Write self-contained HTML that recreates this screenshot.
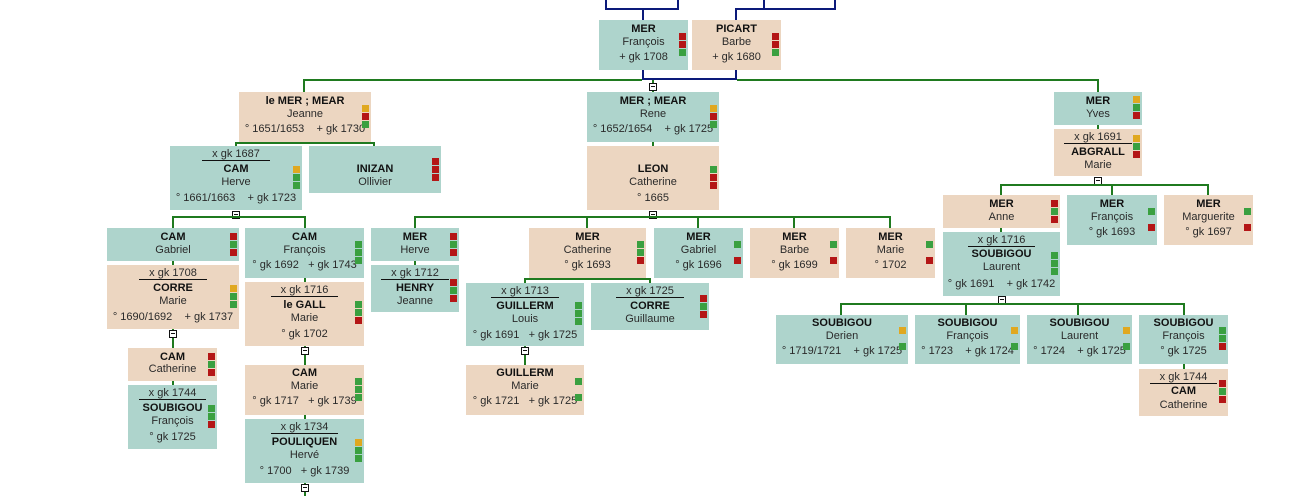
<!DOCTYPE html>
<html><head><meta charset="utf-8"><style>
body{margin:0;width:1306px;height:496px;background:#fff;position:relative;overflow:hidden;font-family:"Liberation Sans",Arial,sans-serif;}
.b{position:absolute;}
.T{background:#aed4cc}.P{background:#ecd6c1}
.l{position:absolute;left:0;right:0;text-align:center;font-size:11px;line-height:13px;color:#2a2a2a;white-space:nowrap}
.l b{font-weight:bold;color:#111}
.u{border-bottom:1px solid #111;padding:0 10px}
.mk{position:absolute;right:2px;width:7px}
.mk i{display:block;width:7px;height:7px;margin-bottom:1px}
.o{background:#e0a820}.r{background:#b41616}.g{background:#3aa040}.n{background:transparent}
.h{position:absolute;background:#1f7a1f}
.v{position:absolute;background:#1f7a1f}
.N{position:absolute;background:#0c1a7a}
.x{position:absolute;width:6px;height:6px;border:1px solid #111;background:#fff}
.x:after{content:"";position:absolute;left:1px;top:2px;width:4px;height:1px;background:#111}
</style></head><body>
<div class="N" style="left:605px;top:0;width:2px;height:10px"></div>
<div class="N" style="left:677px;top:0;width:2px;height:10px"></div>
<div class="N" style="left:605px;top:8px;width:74px;height:2px"></div>
<div class="N" style="left:642px;top:8px;width:2px;height:12px"></div>
<div class="N" style="left:763px;top:0;width:2px;height:10px"></div>
<div class="N" style="left:834px;top:0;width:2px;height:10px"></div>
<div class="N" style="left:735px;top:8px;width:101px;height:2px"></div>
<div class="N" style="left:735px;top:8px;width:2px;height:12px"></div>
<div class="N" style="left:642px;top:70px;width:2px;height:10px"></div>
<div class="N" style="left:735px;top:70px;width:2px;height:10px"></div>
<div class="N" style="left:642px;top:78px;width:95px;height:2px"></div>
<div class="h" style="left:303px;top:79px;width:339px;height:2px"></div>
<div class="h" style="left:737px;top:79px;width:362px;height:2px"></div>
<div class="v" style="left:303px;top:79px;width:2px;height:13px"></div>
<div class="v" style="left:1097px;top:79px;width:2px;height:13px"></div>
<div class="v" style="left:652px;top:80px;width:2px;height:12px"></div>
<div class="x" style="left:649px;top:83px"></div>
<div class="h" style="left:235px;top:142px;width:140px;height:2px"></div>
<div class="v" style="left:235px;top:142px;width:2px;height:4px"></div>
<div class="v" style="left:373px;top:142px;width:2px;height:4px"></div>
<div class="v" style="left:652px;top:142px;width:2px;height:4px"></div>
<div class="v" style="left:1097px;top:125px;width:2px;height:4px"></div>
<div class="x" style="left:232px;top:211px"></div>
<div class="h" style="left:172px;top:216px;width:134px;height:2px"></div>
<div class="v" style="left:172px;top:216px;width:2px;height:12px"></div>
<div class="v" style="left:304px;top:216px;width:2px;height:12px"></div>
<div class="x" style="left:649px;top:211px"></div>
<div class="h" style="left:414px;top:216px;width:477px;height:2px"></div>
<div class="v" style="left:414px;top:216px;width:2px;height:12px"></div>
<div class="v" style="left:586px;top:216px;width:2px;height:12px"></div>
<div class="v" style="left:697px;top:216px;width:2px;height:12px"></div>
<div class="v" style="left:793px;top:216px;width:2px;height:12px"></div>
<div class="v" style="left:889px;top:216px;width:2px;height:12px"></div>
<div class="x" style="left:1094px;top:177px"></div>
<div class="h" style="left:1000px;top:184px;width:209px;height:2px"></div>
<div class="v" style="left:1000px;top:184px;width:2px;height:11px"></div>
<div class="v" style="left:1111px;top:184px;width:2px;height:11px"></div>
<div class="v" style="left:1207px;top:184px;width:2px;height:11px"></div>
<div class="v" style="left:1000px;top:228px;width:2px;height:4px"></div>
<div class="v" style="left:172px;top:261px;width:2px;height:4px"></div>
<div class="v" style="left:304px;top:278px;width:2px;height:4px"></div>
<div class="v" style="left:414px;top:261px;width:2px;height:4px"></div>
<div class="h" style="left:524px;top:278px;width:127px;height:2px"></div>
<div class="v" style="left:524px;top:278px;width:2px;height:5px"></div>
<div class="v" style="left:649px;top:278px;width:2px;height:5px"></div>
<div class="v" style="left:172px;top:329px;width:2px;height:19px"></div>
<div class="x" style="left:169px;top:330px"></div>
<div class="v" style="left:172px;top:381px;width:2px;height:4px"></div>
<div class="v" style="left:304px;top:346px;width:2px;height:19px"></div>
<div class="x" style="left:301px;top:347px"></div>
<div class="v" style="left:304px;top:415px;width:2px;height:4px"></div>
<div class="v" style="left:304px;top:483px;width:2px;height:13px"></div>
<div class="x" style="left:301px;top:484px"></div>
<div class="v" style="left:524px;top:346px;width:2px;height:19px"></div>
<div class="x" style="left:521px;top:347px"></div>
<div class="x" style="left:998px;top:296px"></div>
<div class="h" style="left:840px;top:303px;width:345px;height:2px"></div>
<div class="v" style="left:840px;top:303px;width:2px;height:12px"></div>
<div class="v" style="left:965px;top:303px;width:2px;height:12px"></div>
<div class="v" style="left:1077px;top:303px;width:2px;height:12px"></div>
<div class="v" style="left:1183px;top:303px;width:2px;height:12px"></div>
<div class="v" style="left:1183px;top:364px;width:2px;height:5px"></div>

<div class="b T" style="left:599px;top:20px;width:89px;height:50px"><div class="l" style="top:3px"><b>MER</b></div><div class="l" style="top:16px">François</div><div class="l" style="top:31px">+ gk 1708</div><div class="mk" style="top:13px"><i class="r"></i><i class="r"></i><i class="g"></i></div></div>
<div class="b P" style="left:692px;top:20px;width:89px;height:50px"><div class="l" style="top:3px"><b>PICART</b></div><div class="l" style="top:16px">Barbe</div><div class="l" style="top:31px">+ gk 1680</div><div class="mk" style="top:13px"><i class="r"></i><i class="r"></i><i class="g"></i></div></div>

<div class="b P" style="left:239px;top:92px;width:132px;height:50px"><div class="l" style="top:3px"><b>le MER ; MEAR</b></div><div class="l" style="top:16px">Jeanne</div><div class="l" style="top:31px">° 1651/1653 &nbsp;&nbsp; + gk 1730</div><div class="mk" style="top:13px"><i class="o"></i><i class="r"></i><i class="g"></i></div></div>
<div class="b T" style="left:587px;top:92px;width:132px;height:50px"><div class="l" style="top:3px"><b>MER ; MEAR</b></div><div class="l" style="top:16px">Rene</div><div class="l" style="top:31px">° 1652/1654 &nbsp;&nbsp; + gk 1725</div><div class="mk" style="top:13px"><i class="o"></i><i class="r"></i><i class="g"></i></div></div>
<div class="b P" style="left:587px;top:146px;width:132px;height:64px"><div class="l" style="top:17px"><b>LEON</b></div><div class="l" style="top:30px">Catherine</div><div class="l" style="top:46px">° 1665</div><div class="mk" style="top:20px"><i class="g"></i><i class="r"></i><i class="r"></i></div></div>
<div class="b T" style="left:1054px;top:92px;width:88px;height:33px"><div class="l" style="top:3px"><b>MER</b></div><div class="l" style="top:16px">Yves</div><div class="mk" style="top:4px"><i class="o"></i><i class="g"></i><i class="r"></i></div></div>
<div class="b P" style="left:1054px;top:129px;width:88px;height:47px"><div class="l" style="top:2px"><span class="u">x gk 1691</span></div><div class="l" style="top:17px"><b>ABGRALL</b></div><div class="l" style="top:30px">Marie</div><div class="mk" style="top:6px"><i class="o"></i><i class="g"></i><i class="r"></i></div></div>

<div class="b T" style="left:170px;top:146px;width:132px;height:64px"><div class="l" style="top:2px"><span class="u">x gk 1687</span></div><div class="l" style="top:17px"><b>CAM</b></div><div class="l" style="top:30px">Herve</div><div class="l" style="top:46px">° 1661/1663 &nbsp;&nbsp; + gk 1723</div><div class="mk" style="top:20px"><i class="o"></i><i class="g"></i><i class="g"></i></div></div>
<div class="b T" style="left:309px;top:146px;width:132px;height:47px"><div class="l" style="top:17px"><b>INIZAN</b></div><div class="l" style="top:30px">Ollivier</div><div class="mk" style="top:12px"><i class="r"></i><i class="r"></i><i class="r"></i></div></div>

<div class="b T" style="left:107px;top:228px;width:132px;height:33px"><div class="l" style="top:3px"><b>CAM</b></div><div class="l" style="top:16px">Gabriel</div><div class="mk" style="top:5px"><i class="r"></i><i class="g"></i><i class="r"></i></div></div>
<div class="b T" style="left:245px;top:228px;width:119px;height:50px"><div class="l" style="top:3px"><b>CAM</b></div><div class="l" style="top:16px">François</div><div class="l" style="top:31px">° gk 1692 &nbsp; + gk 1743</div><div class="mk" style="top:13px"><i class="g"></i><i class="g"></i><i class="g"></i></div></div>
<div class="b T" style="left:371px;top:228px;width:88px;height:33px"><div class="l" style="top:3px"><b>MER</b></div><div class="l" style="top:16px">Herve</div><div class="mk" style="top:5px"><i class="r"></i><i class="g"></i><i class="r"></i></div></div>
<div class="b P" style="left:529px;top:228px;width:117px;height:50px"><div class="l" style="top:3px"><b>MER</b></div><div class="l" style="top:16px">Catherine</div><div class="l" style="top:31px">° gk 1693</div><div class="mk" style="top:13px"><i class="g"></i><i class="g"></i><i class="r"></i></div></div>
<div class="b T" style="left:654px;top:228px;width:89px;height:50px"><div class="l" style="top:3px"><b>MER</b></div><div class="l" style="top:16px">Gabriel</div><div class="l" style="top:31px">° gk 1696</div><div class="mk" style="top:13px"><i class="g"></i><i class="n"></i><i class="r"></i></div></div>
<div class="b P" style="left:750px;top:228px;width:89px;height:50px"><div class="l" style="top:3px"><b>MER</b></div><div class="l" style="top:16px">Barbe</div><div class="l" style="top:31px">° gk 1699</div><div class="mk" style="top:13px"><i class="g"></i><i class="n"></i><i class="r"></i></div></div>
<div class="b P" style="left:846px;top:228px;width:89px;height:50px"><div class="l" style="top:3px"><b>MER</b></div><div class="l" style="top:16px">Marie</div><div class="l" style="top:31px">° 1702</div><div class="mk" style="top:13px"><i class="g"></i><i class="n"></i><i class="r"></i></div></div>

<div class="b P" style="left:107px;top:265px;width:132px;height:64px"><div class="l" style="top:2px"><span class="u">x gk 1708</span></div><div class="l" style="top:17px"><b>CORRE</b></div><div class="l" style="top:30px">Marie</div><div class="l" style="top:46px">° 1690/1692 &nbsp;&nbsp; + gk 1737</div><div class="mk" style="top:20px"><i class="o"></i><i class="g"></i><i class="g"></i></div></div>
<div class="b T" style="left:371px;top:265px;width:88px;height:47px"><div class="l" style="top:2px"><span class="u">x gk 1712</span></div><div class="l" style="top:17px"><b>HENRY</b></div><div class="l" style="top:30px">Jeanne</div><div class="mk" style="top:14px"><i class="r"></i><i class="g"></i><i class="r"></i></div></div>
<div class="b P" style="left:245px;top:282px;width:119px;height:64px"><div class="l" style="top:2px"><span class="u">x gk 1716</span></div><div class="l" style="top:17px"><b>le GALL</b></div><div class="l" style="top:30px">Marie</div><div class="l" style="top:46px">° gk 1702</div><div class="mk" style="top:19px"><i class="g"></i><i class="g"></i><i class="r"></i></div></div>
<div class="b T" style="left:466px;top:283px;width:118px;height:63px"><div class="l" style="top:2px"><span class="u">x gk 1713</span></div><div class="l" style="top:17px"><b>GUILLERM</b></div><div class="l" style="top:30px">Louis</div><div class="l" style="top:46px">° gk 1691 &nbsp; + gk 1725</div><div class="mk" style="top:19px"><i class="g"></i><i class="g"></i><i class="g"></i></div></div>
<div class="b T" style="left:591px;top:283px;width:118px;height:47px"><div class="l" style="top:2px"><span class="u">x gk 1725</span></div><div class="l" style="top:17px"><b>CORRE</b></div><div class="l" style="top:30px">Guillaume</div><div class="mk" style="top:12px"><i class="r"></i><i class="g"></i><i class="r"></i></div></div>

<div class="b P" style="left:128px;top:348px;width:89px;height:33px"><div class="l" style="top:3px"><b>CAM</b></div><div class="l" style="top:15px">Catherine</div><div class="mk" style="top:5px"><i class="r"></i><i class="g"></i><i class="r"></i></div></div>
<div class="b T" style="left:128px;top:385px;width:89px;height:64px"><div class="l" style="top:2px"><span class="u">x gk 1744</span></div><div class="l" style="top:17px"><b>SOUBIGOU</b></div><div class="l" style="top:30px">François</div><div class="l" style="top:46px">° gk 1725</div><div class="mk" style="top:20px"><i class="g"></i><i class="g"></i><i class="r"></i></div></div>
<div class="b P" style="left:245px;top:365px;width:119px;height:50px"><div class="l" style="top:2px"><b>CAM</b></div><div class="l" style="top:15px">Marie</div><div class="l" style="top:30px">° gk 1717 &nbsp; + gk 1739</div><div class="mk" style="top:13px"><i class="g"></i><i class="g"></i><i class="g"></i></div></div>
<div class="b T" style="left:245px;top:419px;width:119px;height:64px"><div class="l" style="top:2px"><span class="u">x gk 1734</span></div><div class="l" style="top:17px"><b>POULIQUEN</b></div><div class="l" style="top:30px">Hervé</div><div class="l" style="top:46px">° 1700 &nbsp; + gk 1739</div><div class="mk" style="top:20px"><i class="o"></i><i class="g"></i><i class="g"></i></div></div>
<div class="b P" style="left:466px;top:365px;width:118px;height:50px"><div class="l" style="top:2px"><b>GUILLERM</b></div><div class="l" style="top:15px">Marie</div><div class="l" style="top:30px">° gk 1721 &nbsp; + gk 1725</div><div class="mk" style="top:13px"><i class="g"></i><i class="n"></i><i class="g"></i></div></div>

<div class="b P" style="left:943px;top:195px;width:117px;height:33px"><div class="l" style="top:3px"><b>MER</b></div><div class="l" style="top:16px">Anne</div><div class="mk" style="top:5px"><i class="r"></i><i class="g"></i><i class="r"></i></div></div>
<div class="b T" style="left:1067px;top:195px;width:90px;height:50px"><div class="l" style="top:3px"><b>MER</b></div><div class="l" style="top:16px">François</div><div class="l" style="top:31px">° gk 1693</div><div class="mk" style="top:13px"><i class="g"></i><i class="n"></i><i class="r"></i></div></div>
<div class="b P" style="left:1164px;top:195px;width:89px;height:50px"><div class="l" style="top:3px"><b>MER</b></div><div class="l" style="top:16px">Marguerite</div><div class="l" style="top:31px">° gk 1697</div><div class="mk" style="top:13px"><i class="g"></i><i class="n"></i><i class="r"></i></div></div>
<div class="b T" style="left:943px;top:232px;width:117px;height:64px"><div class="l" style="top:2px"><span class="u">x gk 1716</span></div><div class="l" style="top:16px"><b>SOUBIGOU</b></div><div class="l" style="top:29px">Laurent</div><div class="l" style="top:46px">° gk 1691 &nbsp;&nbsp; + gk 1742</div><div class="mk" style="top:20px"><i class="g"></i><i class="g"></i><i class="g"></i></div></div>

<div class="b T" style="left:776px;top:315px;width:132px;height:49px"><div class="l" style="top:2px"><b>SOUBIGOU</b></div><div class="l" style="top:15px">Derien</div><div class="l" style="top:30px">° 1719/1721 &nbsp;&nbsp; + gk 1725</div><div class="mk" style="top:12px"><i class="o"></i><i class="n"></i><i class="g"></i></div></div>
<div class="b T" style="left:915px;top:315px;width:105px;height:49px"><div class="l" style="top:2px"><b>SOUBIGOU</b></div><div class="l" style="top:15px">François</div><div class="l" style="top:30px">° 1723 &nbsp;&nbsp; + gk 1724</div><div class="mk" style="top:12px"><i class="o"></i><i class="n"></i><i class="g"></i></div></div>
<div class="b T" style="left:1027px;top:315px;width:105px;height:49px"><div class="l" style="top:2px"><b>SOUBIGOU</b></div><div class="l" style="top:15px">Laurent</div><div class="l" style="top:30px">° 1724 &nbsp;&nbsp; + gk 1725</div><div class="mk" style="top:12px"><i class="o"></i><i class="n"></i><i class="g"></i></div></div>
<div class="b T" style="left:1139px;top:315px;width:89px;height:49px"><div class="l" style="top:2px"><b>SOUBIGOU</b></div><div class="l" style="top:15px">François</div><div class="l" style="top:30px">° gk 1725</div><div class="mk" style="top:12px"><i class="g"></i><i class="g"></i><i class="r"></i></div></div>
<div class="b P" style="left:1139px;top:369px;width:89px;height:47px"><div class="l" style="top:2px"><span class="u">x gk 1744</span></div><div class="l" style="top:16px"><b>CAM</b></div><div class="l" style="top:30px">Catherine</div><div class="mk" style="top:11px"><i class="r"></i><i class="g"></i><i class="r"></i></div></div>
</body></html>
